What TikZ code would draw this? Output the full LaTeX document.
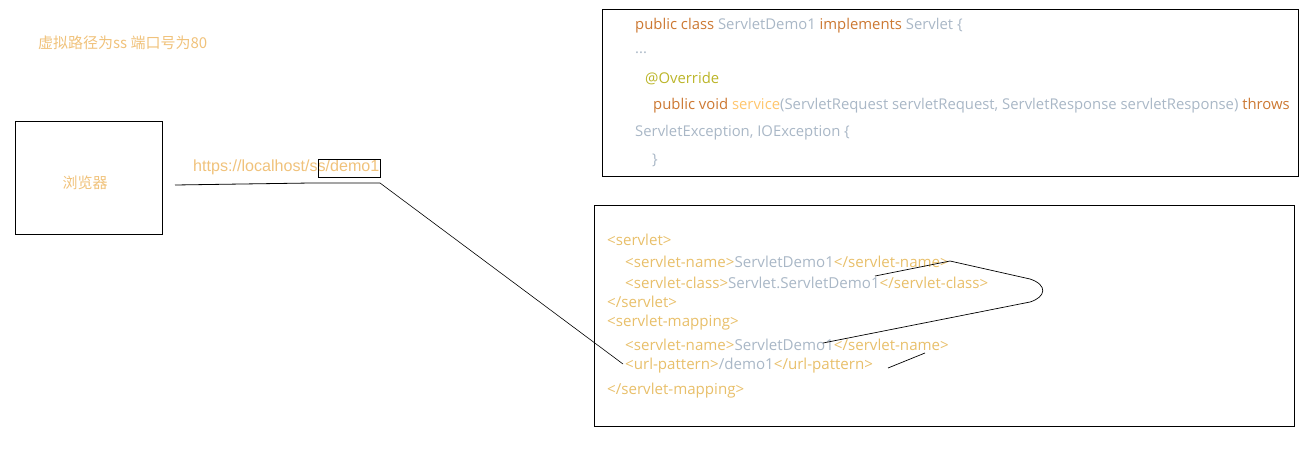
\documentclass[tikz,border=0pt]{standalone}
\usepackage{fontspec}
\setmainfont{Open Sans}
\newfontfamily\cjk{Noto Sans CJK SC}
\newfontfamily\urlfont{Liberation Sans}
\definecolor{lbl}{HTML}{F0C27B}
\definecolor{kw}{HTML}{CC7832}
\definecolor{idn}{HTML}{A9B7C6}
\definecolor{fn}{HTML}{FFC66D}
\definecolor{ann}{HTML}{BBB529}
\definecolor{tag}{HTML}{E8BF6A}
\newcommand{\K}[1]{\textcolor{kw}{#1}}
\newcommand{\I}[1]{\textcolor{idn}{#1}}
\newcommand{\T}[1]{\textcolor{tag}{#1}}
\begin{document}
\begin{tikzpicture}[x=1pt,y=-1pt,
  codeline/.style={anchor=west,inner sep=0pt,font=\fontsize{14.85}{16}\selectfont},
  xmlline/.style={anchor=west,inner sep=0pt,font=\fontsize{15.1}{16}\selectfont},
  panel/.style={draw=black,line width=0.9pt},
  wire/.style={draw=black,line width=0.8pt}]
\useasboundingbox (0,0) rectangle (1311,450);
% top-left note
\node[anchor=west,inner sep=0pt,text=lbl,font=\cjk\fontsize{15}{16}\selectfont] (note) at (38,43) {虚拟路径为ss 端口号为80};
% browser
\node[panel,minimum width=147pt,minimum height=113pt,inner sep=0pt] (browser) at (88.5,177.5) {};
\node[text=lbl,font=\cjk\fontsize{15}{16}\selectfont] (browserlbl) at (85,183) {浏览器};
% url
\node[anchor=west,inner sep=0pt,text=lbl,font=\urlfont\fontsize{16.1}{16}\selectfont] (url) at (193,167) {https://localhost/ss/demo1};
\node[panel,minimum width=62pt,minimum height=18pt,inner sep=0pt,line width=0.8pt] (demobox) at (349,168) {};
\coordinate (lstart) at (175,185);
\coordinate (s1) at (242,184);
\coordinate (s2) at (311,183);
\coordinate (uend) at (380,183);
% top code panel
\node[panel,minimum width=696pt,minimum height=167pt,inner sep=0pt] (javapanel) at (950,92.5) {};
\node[codeline] (j1) at (635,26) {\K{public class }\I{ServletDemo1 }\K{implements }\I{Servlet \{}};
\node[codeline,text=idn] (j2) at (635,53) {...};
\node[codeline,text=ann] (j3) at (645,79) {@Override};
\node[codeline] (j4) at (653,106) {\K{public void }\textcolor{fn}{service}\I{(ServletRequest servletRequest, ServletResponse servletResponse) }\K{throws}};
\node[codeline,text=idn] (j5) at (635,133) {ServletException, IOException \{};
\node[codeline,text=idn] (j6) at (652,160) {\}};
% xml panel
\node[panel,minimum width=700pt,minimum height=221pt,inner sep=0pt] (xmlpanel) at (944,315.5) {};
\node[xmlline] (x1) at (607,240) {\T{<servlet>}};
\node[xmlline] (x2) at (625,262) {\T{<servlet-name>}\I{ServletDemo1}\T{</servlet-name>}};
\node[xmlline] (x3) at (625,283) {\T{<servlet-class>}\I{Servlet.ServletDemo1}\T{</servlet-class>}};
\node[xmlline] (x4) at (607,302) {\T{</servlet>}};
\node[xmlline] (x5) at (607,323) {\T{<servlet-mapping>}};
\node[xmlline] (x6) at (625,345) {\T{<servlet-name>}\I{ServletDemo1}\T{</servlet-name>}};
\node[xmlline] (x7) at (625,366) {\T{<url-pattern>}\I{/demo1}\T{</url-pattern>}};
\node[xmlline] (x8) at (607,391) {\T{</servlet-mapping>}};
% connector coordinates
\coordinate (urlpat) at (623,364);
\coordinate (c1) at (875,276);
\coordinate (c2) at (950,261);
\coordinate (c3) at (823,343);
\coordinate (m1) at (888,368);
\coordinate (m2) at (925,353);
% connectors
\draw[wire] (lstart) -- (s1) -- (s2) -- (uend);
\draw[wire,line width=0.6pt] (uend) -- (urlpat);
\draw[wire,line width=0.7pt] (c1) -- (c2) -- (1030,279) .. controls (1048,285) and (1046,297) .. (1030,302) -- (c3);
\draw[wire,line width=0.7pt] (m1) -- (m2);
\end{tikzpicture}
\end{document}
